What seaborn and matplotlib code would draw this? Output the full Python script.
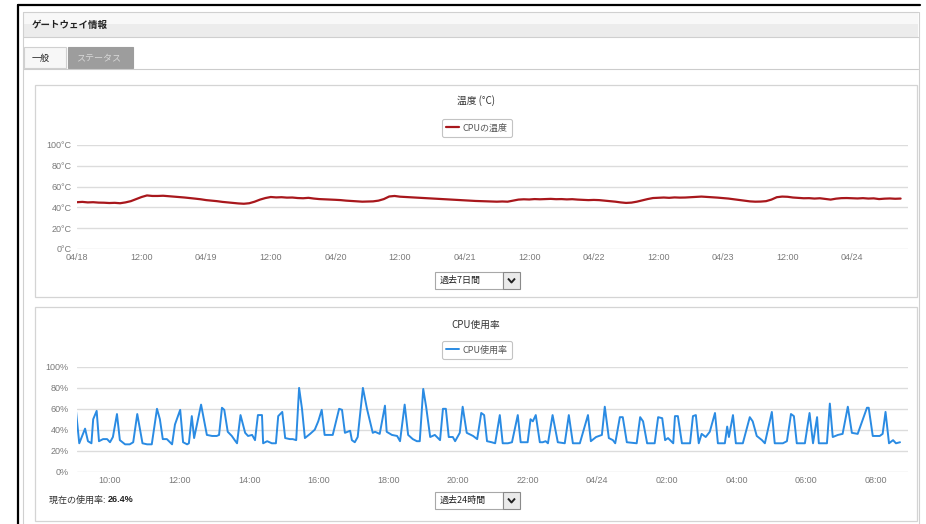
import matplotlib
matplotlib.use("Agg")
import matplotlib.pyplot as plt
import seaborn as sns
import pandas as pd
from matplotlib.patches import Rectangle

# ---------------- data ----------------
temp_hours = list(range(154))  # hours after 04/18 00:00
temp_values = [
    45, 45.3, 44.8, 45, 44.6, 44.5, 44.2, 44.4, 44,
    44.8, 46, 48, 50, 51.5, 51, 51, 51.2, 50.8, 50.5, 50, 49.5, 49, 48.4, 47.8,
    47, 46.5, 46, 45.3, 44.8, 44.2, 43.8, 43.5, 44, 45.5, 47.5, 49, 50, 49.6, 49.8, 49.4, 49.5, 49, 48.8, 49.2, 48.5, 48, 47.8, 47.5,
    47.3, 47, 46.5, 46.2, 45.8, 45.5, 45.6, 45.8, 46.5, 48, 50.5, 51, 50.3, 50, 49.6, 49.3, 49, 48.8, 48.5, 48.3, 47.8, 47.5, 47.3, 47,
    46.8, 46.5, 46.2, 46, 45.8, 45.6, 45.5, 45.7, 45.5, 46.5, 47.5, 47.8, 47.6, 48, 47.8, 48, 48.2, 47.9, 48, 47.7, 47.9, 47.5, 47.3, 47,
    47.2, 47, 46.5, 46, 45.5, 44.8, 44.3, 44.6, 45.5, 46.8, 48, 49, 49.3, 49.5, 49.2, 49.6, 49.4, 49.5, 49.8, 50.2, 50.4, 50.1, 49.8, 49.4,
    49, 48.5, 47.8, 47.2, 46.5, 45.8, 45.5, 45.6, 46, 47.5, 49.8, 50.4, 50.2, 49.5, 49.2, 48.8, 48.9, 48.5, 48.8, 48.2, 47.5, 48.4, 48.9, 49,
    48.8, 48.6, 48.9, 48.5, 48.7, 48, 48.4, 48.6, 48.3, 48.5,
]
temp_tick_hours = [0, 12, 24, 36, 48, 60, 72, 84, 96, 108, 120, 132, 144]
temp_tick_labels = ["04/18", "12:00", "04/19", "12:00", "04/20", "12:00", "04/21",
                    "12:00", "04/22", "12:00", "04/23", "12:00", "04/24"]
temp_yticks = [0, 20, 40, 60, 80, 100]
temp_ylabels = ["0°C", "20°C", "40°C", "60°C", "80°C", "100°C"]

# minutes after 09:00 and CPU usage (%)
cpu_minutes = [
    1, 7, 17, 22, 28, 31, 37, 41, 48, 55, 60, 65, 72, 77, 86, 94, 100, 107, 116, 124,
    132, 141, 146, 151, 158, 167, 172, 181, 186, 193, 196, 201, 205, 217, 227, 236, 244, 248, 253, 257,
    263, 270, 275, 279, 285, 293, 298, 305, 310, 315, 322, 324, 331, 339, 346, 350, 357, 362, 370, 375,
    381, 386, 391, 396, 405, 413, 419, 425, 430, 439, 444, 455, 460, 465, 474, 477, 482, 487, 496, 503,
    513, 517, 525, 534, 537, 546, 555, 560, 568, 574, 582, 589, 594, 600, 605, 612, 620, 629, 634, 639,
    644, 651, 655, 663, 668, 675, 686, 693, 700, 705, 710, 718, 724, 732, 737, 746, 753, 763, 768, 780,
    785, 789, 794, 801, 806, 811, 815, 823, 832, 844, 851, 858, 870, 884, 889, 898, 908, 913, 920, 927,
    931, 939, 944, 951, 968, 974, 979, 986, 999, 1005, 1012, 1017, 1022, 1031, 1034, 1039, 1046, 1060, 1065, 1070,
    1075, 1080, 1087, 1094, 1103, 1108, 1120, 1124, 1127, 1134, 1139, 1151, 1163, 1168, 1175, 1184, 1189, 1201, 1206, 1220,
    1227, 1234, 1239, 1244, 1258, 1266, 1272, 1279, 1282, 1296, 1301, 1306, 1315, 1323, 1332, 1339, 1349, 1365, 1368, 1375,
    1387, 1392, 1397, 1403, 1410, 1415, 1422,
]
cpu_values = [
    60, 27, 41, 29, 27, 50, 58, 29, 31, 31, 28, 33, 55, 30, 26, 26, 28, 55, 27, 26,
    26, 60, 50, 31, 31, 26, 45, 59, 28, 26, 27, 53, 32, 64, 35, 34, 34, 35, 61, 59,
    38, 34, 30, 27, 54, 37, 34, 35, 30, 54, 54, 27, 29, 27, 27, 53, 57, 32, 31, 31,
    30, 80, 60, 32, 36, 40, 48, 59, 35, 35, 35, 60, 59, 37, 39, 30, 28, 33, 80, 60,
    37, 38, 36, 63, 38, 35, 34, 29, 64, 35, 31, 29, 29, 79, 62, 33, 35, 30, 60, 60,
    33, 33, 29, 37, 62, 37, 34, 31, 56, 54, 29, 28, 27, 54, 27, 27, 28, 54, 28, 28,
    50, 48, 54, 28, 28, 29, 27, 54, 28, 27, 54, 27, 27, 54, 29, 33, 35, 62, 32, 30,
    27, 52, 52, 28, 27, 52, 48, 27, 27, 52, 51, 30, 32, 27, 53, 53, 27, 27, 53, 54,
    27, 36, 33, 38, 56, 27, 27, 43, 33, 54, 27, 27, 52, 48, 34, 30, 27, 57, 27, 27,
    29, 55, 53, 27, 27, 56, 27, 52, 27, 27, 65, 33, 35, 36, 62, 37, 36, 61, 61, 34,
    34, 36, 57, 27, 30, 27, 28,
]
cpu_tick_minutes = [60, 180, 300, 420, 540, 660, 780, 900, 1020, 1140, 1260, 1380]
cpu_tick_labels = ["10:00", "12:00", "14:00", "16:00", "18:00", "20:00",
                   "22:00", "04/24", "02:00", "04:00", "06:00", "08:00"]
cpu_yticks = [0, 20, 40, 60, 80, 100]
cpu_ylabels = ["0%", "20%", "40%", "60%", "80%", "100%"]
current_usage = "26.4%"

# ---------------- style ----------------
sns.set_style("white")
plt.rcParams["font.family"] = ["Liberation Sans", "Noto Sans CJK JP", "DejaVu Sans"]
JP = ["Noto Sans CJK JP", "DejaVu Sans"]

W, H = 926, 524
fig = plt.figure(figsize=(W / 100, H / 100), dpi=100)
fig.patch.set_facecolor("white")

bg = fig.add_axes([0, 0, 1, 1])
bg.set_xlim(0, W)
bg.set_ylim(H, 0)
bg.axis("off")


def rect(x0, y0, x1, y1, fc="white", ec="none", lw=1, z=1):
    bg.add_patch(Rectangle((x0, y0), x1 - x0, y1 - y0, facecolor=fc,
                           edgecolor=ec, linewidth=lw, zorder=z))


def to_fig(l, t, r, b):
    return [l / W, 1 - b / H, (r - l) / W, (b - t) / H]


# outer frame
bg.plot([18, 18], [5, 524], color="black", lw=1.6, zorder=5)
bg.plot([18, 920], [5, 5], color="black", lw=1.6, zorder=5)
bg.plot([23, 23], [12, 524], color="#d0d0d0", lw=0.8, zorder=4)
bg.plot([918.5, 918.5], [12, 524], color="#d0d0d0", lw=0.8, zorder=4)

# header bar
rect(23, 12, 918, 24, fc="#f8f8f8", z=2)
rect(23, 24, 918, 37, fc="#ececec", z=2)
bg.plot([23, 918], [12, 12], color="#d0d0d0", lw=0.8, zorder=3)
bg.plot([23, 918], [37, 37], color="#cfcfcf", lw=0.8, zorder=3)
bg.text(32, 24.5, "ゲートウェイ情報", family=JP, fontsize=6.8, fontweight="bold",
        color="#222222", va="center", ha="left", zorder=6)

# tabs
rect(24, 47, 66, 68, fc="#f7f7f7", ec="#d0d0d0", lw=0.8, z=3)
bg.text(32, 58, "一般", family=JP, fontsize=6.5, color="#222222", va="center", ha="left", zorder=6)
rect(68, 47, 133, 68, fc="#9d9d9d", ec="#9d9d9d", lw=0.8, z=3)
bg.text(76, 58, "ステータス", family=JP, fontsize=6.5, color="#d8d8d8", va="center", ha="left", zorder=6)
bg.plot([23, 918], [68.5, 68.5], color="#cccccc", lw=0.8, zorder=3)

# panels
rect(35, 85, 917, 297, fc="white", ec="#d4d4d4", lw=0.9, z=2)
rect(35, 307, 917, 521, fc="white", ec="#d4d4d4", lw=0.9, z=2)

bg.text(476, 101, "温度 (°C)", family=JP, fontsize=7, color="#333333",
        ha="center", va="center", zorder=6)
bg.text(476, 325, "CPU使用率", family=JP, fontsize=7, color="#333333",
        ha="center", va="center", zorder=6)


def dropdown(y0, label):
    rect(435, y0, 503, y0 + 17, fc="white", ec="#a8a8a8", lw=0.8, z=3)
    rect(503, y0, 520, y0 + 17, fc="#eaeaea", ec="#8a8a8a", lw=0.8, z=3)
    bg.plot([508, 511.5, 515], [y0 + 6.5, y0 + 10.5, y0 + 6.5], color="#222222",
            lw=1.4, zorder=6, solid_capstyle="butt")
    bg.text(440, y0 + 8.5, label, family=JP, fontsize=6.5, color="#222222",
            ha="left", va="center", zorder=6)


dropdown(272, "過去7日間")
dropdown(492, "過去24時間")

bg.text(49, 500, "現在の使用率: ", family=JP, fontsize=6.5, color="#333333",
        ha="left", va="center", zorder=6)
bg.text(108, 500, current_usage, fontsize=6.5, color="#222222", fontweight="bold",
        ha="left", va="center", zorder=6)


def style_axes(ax, yticks, ylabels, xticks, xlabels, ypad):
    ax.patch.set_alpha(0)
    for s in ax.spines.values():
        s.set_visible(False)
    ax.set_ylim(0, 100)
    ax.set_yticks(yticks)
    ax.set_yticklabels(ylabels)
    ax.set_xticks(xticks)
    ax.set_xticklabels(xlabels)
    ax.tick_params(axis="y", length=0, pad=ypad, labelsize=6.5, labelcolor="#7a7a7a")
    ax.tick_params(axis="x", length=0, pad=3, labelsize=6.5, labelcolor="#7a7a7a")
    ax.yaxis.grid(True, color="#dcdcdc", lw=1)
    ax.xaxis.grid(False)
    ax.set_xlabel("")
    ax.set_ylabel("")


# temperature chart
ax1 = fig.add_axes(to_fig(77, 145, 908, 249))
df_t = pd.DataFrame({"hour": temp_hours, "temp": temp_values})
sns.lineplot(data=df_t, x="hour", y="temp", ax=ax1, color="#a8171c", lw=1.6,
             label="CPUの温度", legend=False)
ax1.set_xlim(0, (908 - 77) / 5.383)
style_axes(ax1, temp_yticks, temp_ylabels, temp_tick_hours, temp_tick_labels, 4)

# CPU chart
ax2 = fig.add_axes(to_fig(77, 367, 908, 471.5))
df_c = pd.DataFrame({"minute": cpu_minutes, "cpu": cpu_values})
sns.lineplot(data=df_c, x="minute", y="cpu", ax=ax2, color="#2a8be3", lw=1.4,
             label="CPU使用率", legend=False)
ax2.set_xlim((77 - 75.2) * 1.724, (908 - 75.2) * 1.724)
style_axes(ax2, cpu_yticks, cpu_ylabels, cpu_tick_minutes, cpu_tick_labels, 6)

for ax, yc in ((ax1, 128), (ax2, 350)):
    leg = ax.legend(loc="center", bbox_to_anchor=(477 / W, 1 - yc / H),
                    bbox_transform=fig.transFigure, frameon=True, fancybox=True,
                    prop={"family": JP, "size": 6.5}, handlelength=1.4,
                    handletextpad=0.4, borderpad=0.45, borderaxespad=0)
    leg.get_frame().set_edgecolor("#b5b5b5")
    leg.get_frame().set_linewidth(0.8)
    for t in leg.get_texts():
        t.set_color("#555555")

fig.savefig("out.png", dpi=100)
